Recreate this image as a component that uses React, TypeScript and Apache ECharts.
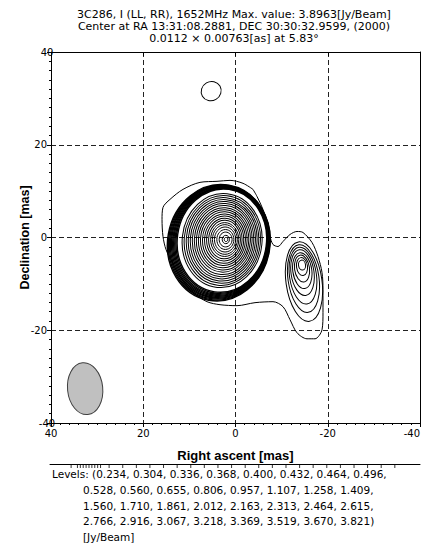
import React, { useEffect, useRef } from "react";
import * as echarts from "echarts";

// ---------- data ----------
const titleLines = [
  "3C286, I (LL, RR), 1652MHz Max. value: 3.8963[Jy/Beam]",
  "Center at RA 13:31:08.2881, DEC 30:30:32.9599, (2000)",
  "0.0112 \u00d7 0.00763[as] at 5.83\u00b0",
];

const xTickMin = -40;
const xTickMax = 40;
const tickStep = 20;

const levels = [
  0.234, 0.304, 0.336, 0.368, 0.4, 0.432, 0.464, 0.496,
  0.528, 0.56, 0.655, 0.806, 0.957, 1.107, 1.258, 1.409,
  1.56, 1.71, 1.861, 2.012, 2.163, 2.313, 2.464, 2.615,
  2.766, 2.916, 3.067, 3.218, 3.369, 3.519, 3.67, 3.821,
];

// lowest contour (0.234 Jy/Beam) enclosing both components: [RA mas, Dec mas]
const outerContour: [number, number][] = [
  [-3.79, 10.38], [-1.63, 11.68], [1.19, 12.32], [4.01, 12.11], [7.7, 11.89],
  [11.38, 10.38], [14.2, 8.22], [15.72, 6.49], [15.93, 3.89], [15.72, 0.22],
  [15.07, -2.59], [13.77, -5.19], [12.03, -8.43], [9.21, -11.89], [6.18, -13.84],
  [3.36, -14.49], [-0.33, -14.7], [-4.23, -14.05], [-8.13, -13.84], [-10.3, -14.92],
  [-11.82, -17.73], [-13.33, -20.54], [-15.5, -21.84], [-17.24, -21.84], [-18.76, -19.89],
  [-18.97, -16.22], [-18.97, -11.24], [-18.76, -7.57], [-17.89, -4.11], [-16.59, -1.08],
  [-14.63, 1.08], [-13.33, 1.3], [-11.82, 0.65], [-10.3, -0.86], [-9.21, -1.95],
  [-8.13, -1.51], [-7.48, 0.22], [-6.83, 3.24], [-5.96, 6.05], [-4.66, 8.86],
  [-3.79, 10.38],
];

// main component contours: [level, RA centre, Dec centre, half-width, half-height, tilt deg]
const mainBandRings: number[][] = [
  [0.304, 3.62, -1.12, 11.1, 12.6, -10],
  [0.336, 3.55, -1.07, 10.95, 12.45, -10],
  [0.368, 3.47, -1.01, 10.8, 12.3, -10],
  [0.4, 3.39, -0.96, 10.65, 12.15, -10],
  [0.432, 3.32, -0.91, 10.5, 12.0, -9],
  [0.464, 3.24, -0.86, 10.34, 11.84, -9],
  [0.496, 3.17, -0.81, 10.18, 11.68, -9],
  [0.528, 3.09, -0.76, 10.02, 11.52, -9],
  [0.56, 3.02, -0.71, 9.86, 11.36, -8],
  [0.655, 2.95, -0.67, 9.68, 11.16, -8],
];
const mainInnerRings: number[][] = [
  [0.806, 2.9, -0.66, 8.65, 10.15, -6],
  [0.957, 2.86, -0.64, 8.25, 9.7, -6],
  [1.107, 2.82, -0.62, 7.85, 9.25, -5],
  [1.258, 2.78, -0.6, 7.45, 8.8, -5],
  [1.409, 2.74, -0.58, 7.05, 8.35, -5],
  [1.56, 2.7, -0.56, 6.65, 7.9, -4],
  [1.71, 2.66, -0.54, 6.25, 7.45, -4],
  [1.861, 2.62, -0.52, 5.85, 6.95, -4],
  [2.012, 2.58, -0.5, 5.45, 6.5, -3],
  [2.163, 2.54, -0.49, 5.05, 6.05, -3],
  [2.313, 2.5, -0.48, 4.65, 5.55, -3],
  [2.464, 2.46, -0.47, 4.25, 5.1, -2],
  [2.615, 2.42, -0.46, 3.85, 4.6, -2],
  [2.766, 2.38, -0.45, 3.45, 4.15, -2],
  [2.916, 2.34, -0.44, 3.05, 3.65, 0],
  [3.067, 2.3, -0.43, 2.7, 3.2, 0],
  [3.218, 2.26, -0.43, 2.3, 2.7, 0],
  [3.369, 2.2, -0.43, 1.85, 2.15, 0],
  [3.519, 2.14, -0.43, 1.4, 1.6, 0],
  [3.67, 2.1, -0.43, 0.78, 0.9, 0],
  [3.821, 2.06, -0.43, 0.38, 0.45, 0],
];

// secondary component contours
const secondaryRings: number[][] = [
  [0.304, -14.85, -9.51, 3.9, 8.65, 8],
  [0.336, -14.74, -8.86, 3.36, 7.35, 8],
  [0.368, -14.63, -8.22, 2.92, 6.16, 8],
  [0.4, -14.53, -7.57, 2.49, 4.97, 8],
  [0.432, -14.48, -7.14, 2.06, 3.89, 8],
  [0.464, -14.42, -6.7, 1.62, 2.92, 8],
  [0.496, -14.42, -6.27, 1.19, 1.95, 8],
  [0.528, -14.42, -5.95, 0.76, 1.08, 8],
];

// isolated small contour to the north
const isolatedRings: number[][] = [[0.234, 5.27, 31.57, 2.2, 2.05, 30]];

// restoring beam (from title: 0.0112 x 0.00763 as at 5.83 deg)
const beamMajorMas = 11.2;
const beamMinorMas = 7.63;
const beamPA = 5.83;
const beamCenter = [32.6, -32.6];

const levelBarMax = 4.1;

// ---------- styling ----------
const FONT = '"DejaVu Sans", Verdana, sans-serif';
const BOLD = '"Liberation Sans", Arial, sans-serif';

function ellipseRenderer(fill: string, stroke: string, lineWidth: number) {
  return (params: any, api: any) => {
    const c = api.coord([api.value(1), api.value(2)]);
    const s = api.size([api.value(3), api.value(4)]);
    return {
      type: "ellipse",
      x: c[0],
      y: c[1],
      rotation: (api.value(5) * Math.PI) / 180,
      shape: { cx: 0, cy: 0, rx: Math.abs(s[0]), ry: Math.abs(s[1]) },
      style: { fill, stroke, lineWidth },
    };
  };
}

function levelLines(): string[] {
  const fmt = levels.map((v) => v.toFixed(3));
  const rows: string[] = [];
  for (let i = 0; i < fmt.length; i += 8) rows.push(fmt.slice(i, i + 8).join(", "));
  return rows.map((r, i) => (i === 0 ? "Levels: (" : "") + r + (i === rows.length - 1 ? ")" : ","));
}

export default function App() {
  const ref = useRef<HTMLDivElement>(null);
  useEffect(() => {
    if (!ref.current) return;
    const chart = echarts.init(ref.current, null, { renderer: "svg" });
    const lv = levelLines();
    const textEls: any[] = [];
    titleLines.forEach((t, i) => {
      textEls.push({
        type: "text",
        x: 234,
        y: 14 + i * 12,
        style: {
          text: t, fill: "#000", fontSize: 11, fontFamily: FONT,
          align: "center", verticalAlign: "middle", textAlign: "center", textVerticalAlign: "middle",
        },
      });
    });
    [...lv, "[Jy/Beam]"].forEach((t, i) => {
      textEls.push({
        type: "text",
        x: i === 0 ? 52 : 83,
        y: 474 + i * 15.8,
        style: {
          text: t, fill: "#000", fontSize: 10.5, fontFamily: FONT,
          align: "left", verticalAlign: "middle", textAlign: "left", textVerticalAlign: "middle",
        },
      });
    });

    const axisBase = {
      type: "value",
      min: xTickMin,
      max: xTickMax,
      interval: tickStep,
    };

    chart.setOption({
      animation: false,
      backgroundColor: "#fff",
      grid: [
        { left: 51, right: 6, top: 52, height: 371, outerBoundsMode: "none" },
        { left: 50, right: 6, top: 463, height: 1, outerBoundsMode: "none" },
      ],
      xAxis: [
        {
          ...axisBase,
          gridIndex: 0,
          inverse: true,
          position: "bottom",
          axisLine: { show: true, onZero: false, lineStyle: { color: "#000", width: 1 } },
          axisTick: { show: true, length: 4, lineStyle: { color: "#000" } },
          minorTick: { show: true, splitNumber: 10, length: 2, lineStyle: { color: "#000" } },
          axisLabel: {
            color: "#000", fontSize: 10, fontFamily: FONT, margin: 5,
            alignMinLabel: "right", alignMaxLabel: "center",
          },
          splitLine: { show: true, lineStyle: { color: "#222", type: [5, 3], width: 1 } },
          name: "Right ascent [mas]",
          nameLocation: "middle",
          nameGap: 26,
          nameMoveOverlap: false,
          nameTextStyle: { color: "#000", fontSize: 13, fontWeight: "bold", fontFamily: BOLD },
        },
        {
          ...axisBase,
          gridIndex: 0,
          inverse: true,
          position: "top",
          axisLine: { show: true, onZero: false, lineStyle: { color: "#000", width: 1 } },
          axisTick: { show: true, inside: true, length: 4, lineStyle: { color: "#000" } },
          axisLabel: { show: false },
          splitLine: { show: false },
        },
        {
          type: "value",
          gridIndex: 1,
          min: 0,
          max: levelBarMax,
          position: "bottom",
          axisLine: { show: true, onZero: false, lineStyle: { color: "#000", width: 1 } },
          axisTick: { show: false },
          axisLabel: { show: false },
          splitLine: { show: false },
        },
      ],
      yAxis: [
        {
          ...axisBase,
          gridIndex: 0,
          position: "left",
          axisLine: { show: true, onZero: false, lineStyle: { color: "#000", width: 1 } },
          axisTick: { show: true, length: 4, lineStyle: { color: "#000" } },
          minorTick: { show: true, splitNumber: 10, length: 2, lineStyle: { color: "#000" } },
          axisLabel: {
            color: "#000", fontSize: 10, fontFamily: FONT, margin: 4,
            alignMinLabel: "center", alignMaxLabel: "center",
          },
          splitLine: { show: true, lineStyle: { color: "#222", type: [5, 3], width: 1 } },
          name: "Declination [mas]",
          nameLocation: "middle",
          nameRotate: 90,
          nameGap: 20,
          nameMoveOverlap: false,
          nameTextStyle: { color: "#000", fontSize: 12.5, fontWeight: "bold", fontFamily: BOLD },
        },
        {
          ...axisBase,
          gridIndex: 0,
          position: "right",
          axisLine: { show: true, onZero: false, lineStyle: { color: "#000", width: 1 } },
          axisTick: { show: false },
          axisLabel: { show: false },
          splitLine: { show: false },
        },
        {
          type: "value",
          gridIndex: 1,
          min: 0,
          max: 1,
          show: false,
        },
      ],
      series: [
        {
          type: "line",
          xAxisIndex: 0,
          yAxisIndex: 0,
          data: outerContour,
          smooth: 0.3,
          symbol: "none",
          silent: true,
          lineStyle: { color: "#000", width: 1 },
          z: 3,
        },
        {
          type: "custom",
          xAxisIndex: 0,
          yAxisIndex: 0,
          data: mainBandRings,
          encode: { x: 1, y: 2 },
          renderItem: ellipseRenderer("none", "#000", 1.4),
          silent: true,
          z: 3,
        },
        {
          type: "custom",
          xAxisIndex: 0,
          yAxisIndex: 0,
          data: [...mainInnerRings, ...secondaryRings, ...isolatedRings],
          encode: { x: 1, y: 2 },
          renderItem: ellipseRenderer("none", "#000", 1),
          silent: true,
          z: 3,
        },
        {
          type: "custom",
          xAxisIndex: 0,
          yAxisIndex: 0,
          data: [[0, beamCenter[0], beamCenter[1], beamMinorMas / 2, beamMajorMas / 2, beamPA]],
          encode: { x: 1, y: 2 },
          renderItem: ellipseRenderer("#c0c0c0", "#404040", 1),
          silent: true,
          z: 3,
        },
        {
          type: "scatter",
          xAxisIndex: 2,
          yAxisIndex: 2,
          data: levels.map((l) => [l, 0]),
          symbol: "rect",
          symbolSize: [1, 4],
          symbolOffset: [0, 2],
          itemStyle: { color: "#000" },
          silent: true,
        },
      ],
      graphic: textEls,
    });
    return () => chart.dispose();
  }, []);
  return (
    <div
      ref={ref}
      style={{ position: "absolute", left: 0, top: 0, width: 426, height: 545 }}
    />
  );
}
